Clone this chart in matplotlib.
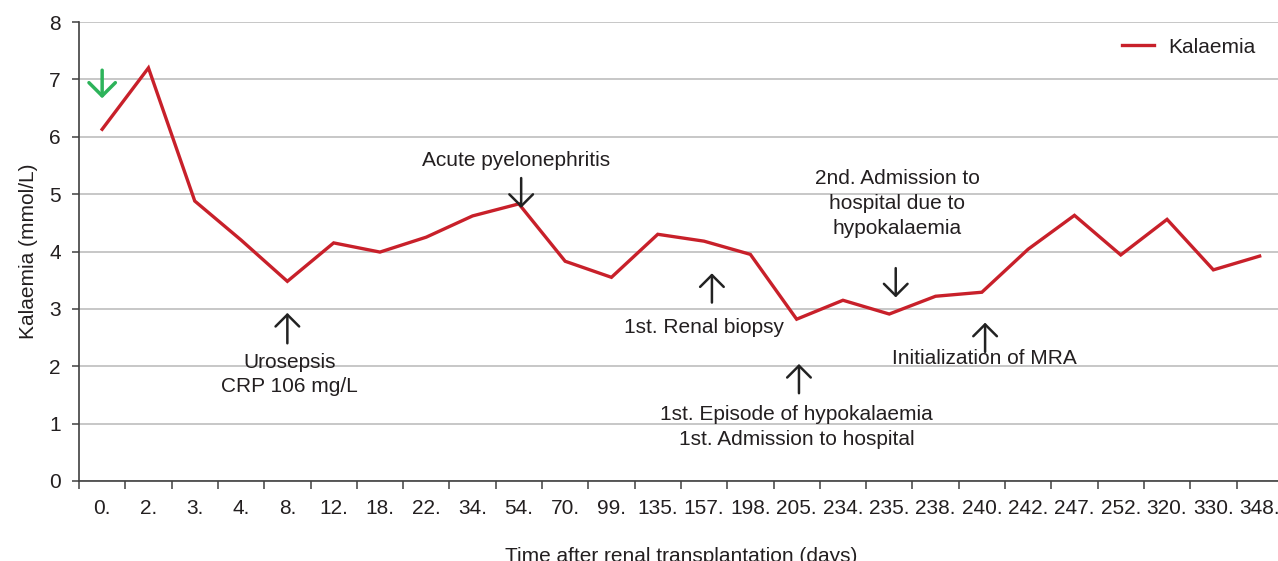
import matplotlib
matplotlib.use("Agg")
import matplotlib.pyplot as plt
from matplotlib.ticker import FixedLocator

plt.rcParams['font.family'] = ['Liberation Sans', 'DejaVu Sans']

days = ["0.", "2.", "3.", "4.", "8.", "12.", "18.", "22.", "34.", "54.", "70.", "99.",
        "135.", "157.", "198.", "205.", "234.", "235.", "238.", "240.", "242.", "247.",
        "252.", "320.", "330.", "348."]
kalaemia = [6.13, 7.2, 4.88, 4.2, 3.48, 4.15, 3.99, 4.25, 4.62, 4.83, 3.83, 3.55,
            4.3, 4.18, 3.95, 2.82, 3.15, 2.91, 3.22, 3.29, 4.04, 4.63, 3.94, 4.56, 3.68, 3.92]

# annotations: (text, text_x, text_y, arrow_x, tail_y, head_y)
notes = [
    ("Urosepsis\nCRP 106 mg/L", 4.05, 1.855, 4.0, 2.40, 2.93),
    ("Acute pyelonephritis", 8.95, 5.59, 9.05, 5.28, 4.76),
    ("1st. Renal biopsy", 13.0, 2.68, 13.17, 3.11, 3.62),
    ("1st. Episode of hypokalaemia\n1st. Admission to hospital", 15.0, 0.94, 15.05, 1.53, 2.04),
    ("2nd. Admission to\nhospital due to\nhypokalaemia", 17.17, 4.84, 17.14, 3.71, 3.20),
    ("Initialization of MRA", 19.05, 2.14, 19.07, 2.25, 2.76),
]

TXT = '#231f20'
FS = 15

fig = plt.figure(figsize=(12.78, 5.61), dpi=100)
ax = fig.add_axes([79/1278, 1-481/561, (1282.8-79)/1278, (481-22)/561])

x = list(range(len(days)))
ax.plot(x, kalaemia, color='#c8202a', lw=2.4, label='Kalaemia', solid_joinstyle='miter')

ax.set_xlim(-0.5, len(days) - 0.5)
ax.set_ylim(0, 8)
ax.set_yticks(range(0, 9))
ax.grid(axis='y', color='#bdbdbd', lw=1.2)
ax.set_axisbelow(True)

ax.set_xticks(x)
ax.set_xticklabels(days)
ax.xaxis.set_minor_locator(FixedLocator([i - 0.5 for i in range(len(days) + 1)]))
ax.tick_params(axis='x', which='major', length=0, pad=13, labelsize=FS, labelcolor=TXT)
ax.tick_params(axis='x', which='minor', length=6, width=1.1, color='#404040', direction='out')
ax.tick_params(axis='y', length=5, width=1.1, color='#404040', labelsize=FS, labelcolor=TXT, pad=8)

for s in ['top', 'right']:
    ax.spines[s].set_visible(False)
for s in ['left', 'bottom']:
    ax.spines[s].set_color('#404040')
    ax.spines[s].set_linewidth(1.2)

ax.set_ylabel('Kalaemia (mmol/L)', fontsize=FS, color=TXT, labelpad=8)
ax.set_xlabel('Time after renal transplantation (days)', fontsize=FS, color=TXT, labelpad=21)

arrow_style = dict(arrowstyle='->,head_length=0.85,head_width=0.85', lw=1.8, color='#222222',
                   shrinkA=0, shrinkB=0)
for text, tx, ty, axx, tail, head in notes:
    ax.annotate('', xy=(axx, head), xytext=(axx, tail), arrowprops=arrow_style)
    ax.text(tx, ty, text, ha='center', va='center', fontsize=FS, color=TXT,
            linespacing=1.38)

# green arrow at start
ax.annotate('', xy=(0.0, 6.67), xytext=(0.0, 7.16),
            arrowprops=dict(arrowstyle='->,head_length=0.95,head_width=0.95', lw=2.5,
                            color='#2db35a', shrinkA=0, shrinkB=0))

leg = ax.legend(loc='upper right', bbox_to_anchor=(0.984, 0.984), borderaxespad=0,
                frameon=False, fontsize=FS, handlelength=1.55, handletextpad=0.65,
                labelcolor=TXT)

fig.savefig('out.png', dpi=100)
